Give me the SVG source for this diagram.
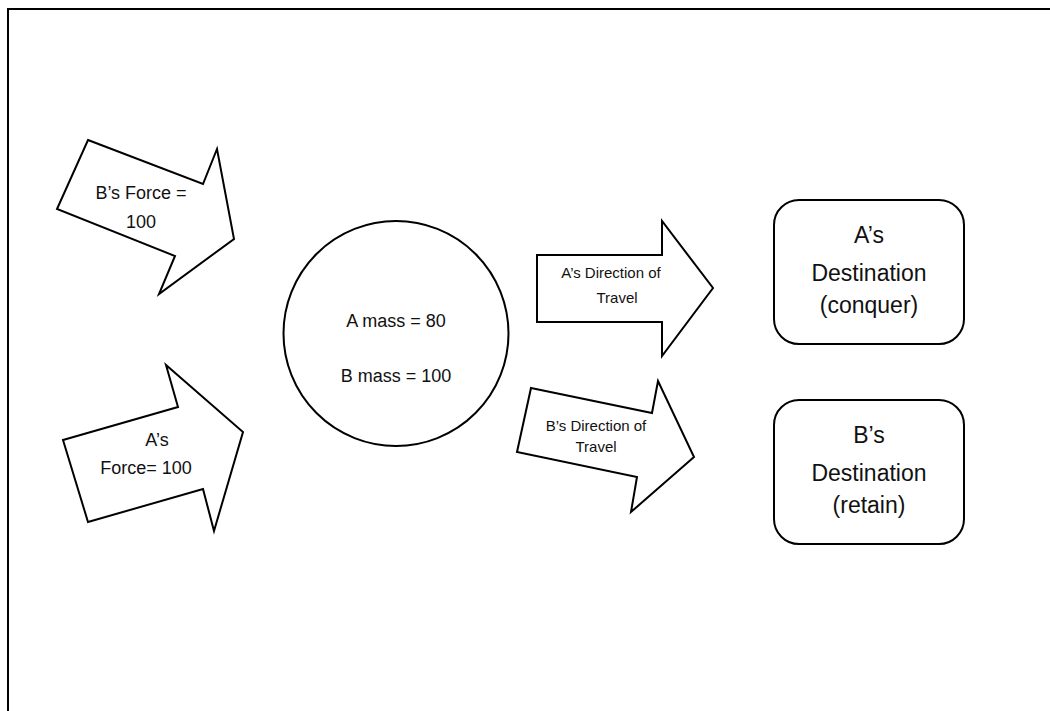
<svg xmlns="http://www.w3.org/2000/svg" width="1050" height="711" viewBox="0 0 1050 711">
<style>
.shape{fill:#ffffff;stroke:#000000;stroke-width:2;stroke-linejoin:miter}
.frame{fill:none;stroke:#000000;stroke-width:2}
text{font-family:"Liberation Sans",Arial,sans-serif;fill:#111111;text-anchor:middle}
.big{font-size:18px}
.small{font-size:15px}
.dest{font-size:23px}
</style>
<rect width="1050" height="711" fill="#ffffff"/>
<path class="frame" d="M8,711 V9 H1050"/>
<g id="connectors"></g>
<g id="b-force">
<polygon class="shape" points="88,140 203,184 217,149 234,239 159,294 175,256 57,209"/>
<text class="big" x="141" y="199">B’s Force =</text>
<text class="big" x="141" y="228">100</text>
</g>
<g id="a-force">
<polygon class="shape" points="63,440 178,407 166,365 243,432 214,531 203,489 88,522"/>
<text class="big" x="157" y="446">A’s</text>
<text class="big" x="146" y="474">Force= 100</text>
</g>
<g id="mass">
<circle class="shape" cx="396" cy="333.5" r="112.5"/>
<text class="big" x="396" y="327">A mass = 80</text>
<text class="big" x="396" y="382">B mass = 100</text>
</g>
<g id="a-direction">
<polygon class="shape" points="537,255 662,255 662,221 713,288 662,356 662,322 537,322"/>
<text class="small" x="611" y="278">A’s Direction of</text>
<text class="small" x="617" y="303">Travel</text>
</g>
<g id="b-direction">
<polygon class="shape" points="531,388 652,413 658,381 694,457 631,512 637,477 517,452"/>
<text class="small" x="596" y="431">B’s Direction of</text>
<text class="small" x="596" y="452">Travel</text>
</g>
<g id="a-destination">
<rect class="shape" x="774" y="200" width="190" height="144" rx="25" ry="25"/>
<text class="dest" x="869" y="243">A’s</text>
<text class="dest" x="869" y="281">Destination</text>
<text class="dest" x="869" y="313">(conquer)</text>
</g>
<g id="b-destination">
<rect class="shape" x="774" y="400" width="190" height="144" rx="25" ry="25"/>
<text class="dest" x="869" y="443">B’s</text>
<text class="dest" x="869" y="481">Destination</text>
<text class="dest" x="869" y="513">(retain)</text>
</g>
</svg>
